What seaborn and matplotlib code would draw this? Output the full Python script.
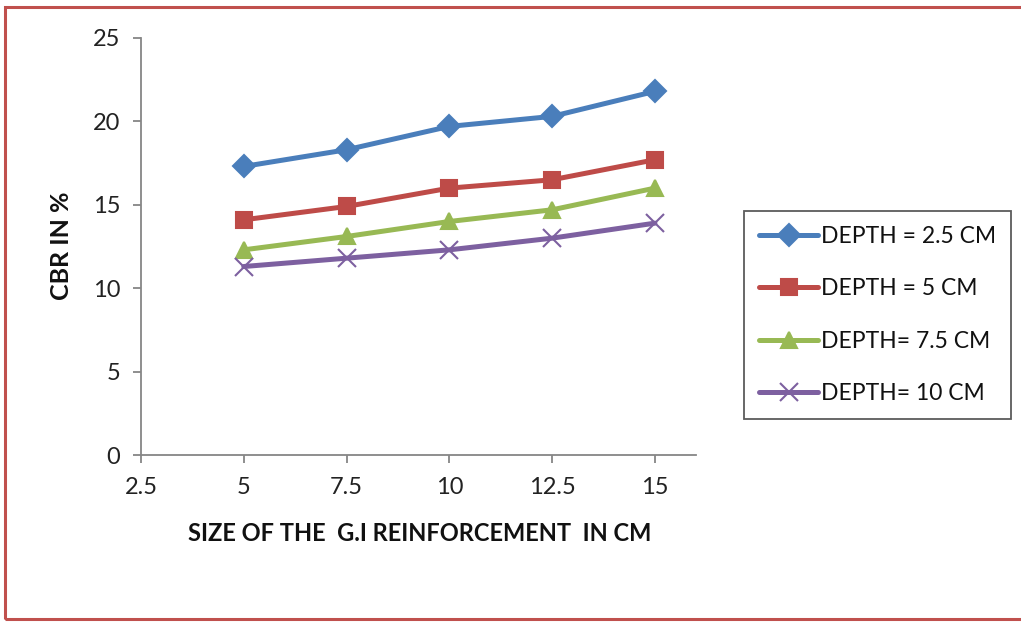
import matplotlib
matplotlib.use("Agg")
import matplotlib.pyplot as plt
import seaborn as sns
import pandas as pd
from matplotlib.patches import Rectangle
from matplotlib.lines import Line2D

sizes = [5, 7.5, 10, 12.5, 15]
depth_25 = [17.3, 18.3, 19.7, 20.3, 21.8]
depth_5 = [14.1, 14.9, 16.0, 16.5, 17.7]
depth_75 = [12.3, 13.1, 14.0, 14.7, 16.0]
depth_10 = [11.3, 11.8, 12.3, 13.0, 13.9]
series_names = ["DEPTH = 2.5 CM", "DEPTH = 5 CM", "DEPTH= 7.5 CM", "DEPTH= 10 CM"]
x_ticks = [2.5, 5, 7.5, 10, 12.5, 15]
x_tick_labels = ["2.5", "5", "7.5", "10", "12.5", "15"]
y_ticks = [0, 5, 10, 15, 20, 25]

sns.set_theme(style="white")
plt.rcParams["font.family"] = ["Lato", "DejaVu Sans"]

W, H = 1021, 622
fig = plt.figure(figsize=(W / 100, H / 100), dpi=100)
ax = fig.add_axes([141 / W, 1 - 455 / H, 555 / W, 417 / H])

colors = ["#4A7EBB", "#BE4B48", "#98B954", "#7D60A0"]
marker_list = ["D", "s", "^", "x"]
msizes = [11.5, 12, 12, 13]
lw = 3.6

handles = []
for name, vals, c, m, ms in zip(series_names, [depth_25, depth_5, depth_75, depth_10],
                                colors, marker_list, msizes):
    d = pd.DataFrame({"size": sizes, "cbr": vals})
    sns.lineplot(data=d, x="size", y="cbr", color=c, marker=m, markersize=ms,
                 markeredgecolor=c, markeredgewidth=1.5, linewidth=lw, ax=ax)
    handles.append(Line2D([0], [0], color=c, lw=lw, marker=m, markersize=ms,
                          markeredgecolor=c, markeredgewidth=1.5))

ax.set_xlim(2.5, 16.0)
ax.set_ylim(0, 25)
ax.set_xticks(x_ticks)
ax.set_xticklabels(x_tick_labels)
ax.set_yticks(y_ticks)
for sp in ["top", "right"]:
    ax.spines[sp].set_visible(False)
for sp in ["left", "bottom"]:
    ax.spines[sp].set_color("#868686")
    ax.spines[sp].set_linewidth(1.3)
ax.tick_params(axis="both", direction="out", length=6, width=1.3, color="#868686",
               labelsize=17, labelcolor="#222222", bottom=True, left=True)
ax.tick_params(axis="x", pad=10)
ax.tick_params(axis="y", pad=9)
ax.set_xlabel("SIZE OF THE  G.I REINFORCEMENT  IN CM", fontsize=17, fontweight="bold",
              color="#111111")
ax.set_ylabel("CBR IN %", fontsize=18, fontweight="bold", color="#111111")
ax.xaxis.set_label_coords((420 - 141) / 555, (455 - 522) / 417)
ax.yaxis.set_label_coords((73 - 141) / 555, (455 - 246) / 417)

leg = fig.legend(handles, series_names, loc="upper left",
                 bbox_to_anchor=(744 / W, 1 - 211 / H), borderaxespad=0,
                 frameon=True, fontsize=16.5, handlelength=2.6, handletextpad=0.12,
                 labelspacing=1.37, borderpad=0.65, fancybox=False)
leg.get_frame().set_edgecolor("#333333")
leg.get_frame().set_linewidth(1.3)
for t in leg.get_texts():
    t.set_color("#111111")

fig.patches.append(Rectangle((5 / W, 3 / H), 1.2, 1 - 10 / H,
                             transform=fig.transFigure, fill=False,
                             edgecolor="#C0504D", linewidth=2.2, clip_on=False))

fig.savefig("out.png", dpi=100)
